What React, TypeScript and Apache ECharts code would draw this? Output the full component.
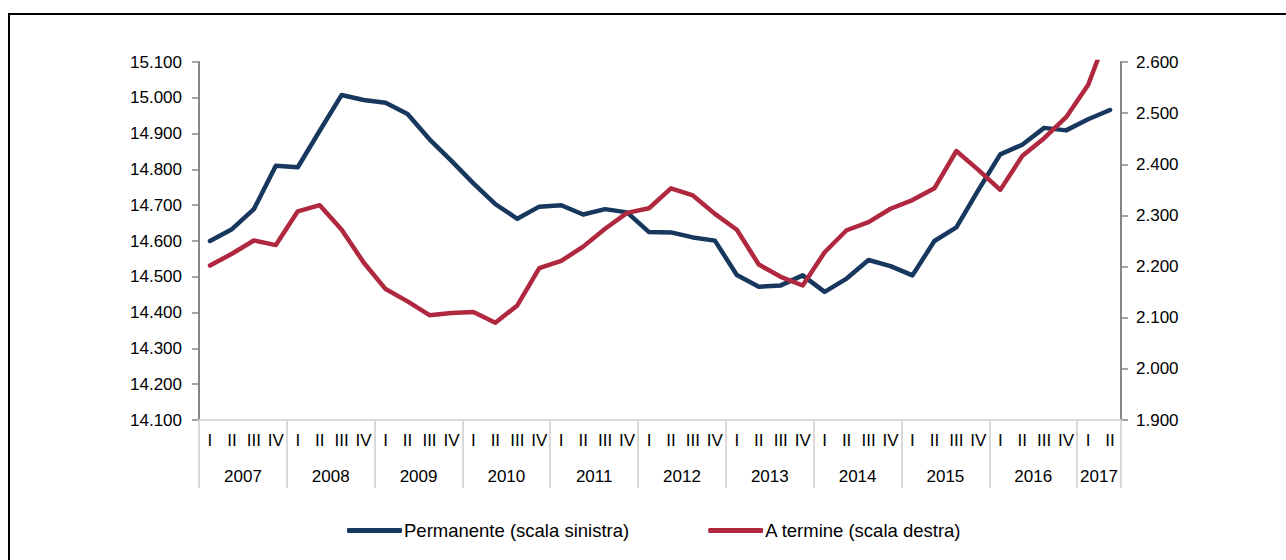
import React, { useEffect, useRef } from 'react';
import * as echarts from 'echarts';

const years = ['2007', '2008', '2009', '2010', '2011', '2012', '2013', '2014', '2015', '2016', '2017'];
const quarters = ['I', 'II', 'III', 'IV'];
const quarterCount = 42;

// Occupati permanenti (migliaia, scala sinistra)
const permanente = [
  14600, 14633, 14689, 14810, 14806, 14908, 15008, 14994, 14986, 14955, 14884, 14824,
  14761, 14703, 14662, 14696, 14700, 14674, 14689, 14680, 14625, 14624, 14610, 14601,
  14505, 14472, 14476, 14504, 14458, 14495, 14547, 14530, 14504, 14600, 14638, 14742,
  14842, 14869, 14916, 14909, 14940, 14966,
];

// Occupati a termine (migliaia, scala destra)
const aTermine = [
  2202, 2225, 2251, 2242, 2308, 2320, 2272, 2208, 2156, 2132, 2105, 2109,
  2111, 2090, 2124, 2197, 2211, 2239, 2274, 2305, 2314, 2353, 2339, 2303,
  2272, 2204, 2180, 2163, 2228, 2271, 2287, 2313, 2330, 2353, 2426, 2389,
  2350, 2416, 2451, 2492, 2555, 2668,
];

const leftRange = { min: 14100, max: 15100, step: 100 };
const rightRange = { min: 1900, max: 2600, step: 100 };

const seriesNames = ['Permanente (scala sinistra)', 'A termine (scala destra)'];
const colors = ['#17375E', '#B0283F'];

const categories: string[] = [];
years.forEach((y) => quarters.forEach((q) => categories.push(`${y}-${q}`)));
categories.length = quarterCount;

const quartersInYear = (y: string) => categories.filter((c) => c.split('-')[0] === y).length;

const fmt = (v: number) => (v / 1000).toFixed(3);

const FONT = 'Liberation Sans, Arial, sans-serif';

export default function App() {
  const ref = useRef<HTMLDivElement>(null);

  useEffect(() => {
    if (!ref.current) return;
    const chart = echarts.init(ref.current, null, { renderer: 'svg' });
    chart.setOption({
      animation: false,
      backgroundColor: '#ffffff',
      textStyle: { fontFamily: FONT },
      graphic: [
        {
          type: 'rect',
          shape: { x: 9, y: 14, width: 1400, height: 700 },
          style: { fill: 'none', stroke: '#000000', lineWidth: 2 },
          silent: true,
        },
      ],
      grid: { left: 199, right: 165, top: 62, bottom: 140, containLabel: false },
      legend: {
        left: 342,
        top: 516,
        itemGap: 79,
        itemWidth: 55,
        itemHeight: 5,
        icon: 'roundRect',
        textStyle: { fontFamily: FONT, fontSize: 18.5, color: '#000000', padding: [0, 0, 0, -3] },
        data: seriesNames,
      },
      xAxis: [
        {
          type: 'category',
          data: categories,
          boundaryGap: true,
          position: 'bottom',
          axisLine: { show: true, lineStyle: { color: '#d9d9d9', width: 2 } },
          axisTick: {
            show: true,
            interval: (index: number) => index % 4 === 0,
            length: 68,
            lineStyle: { color: '#d9d9d9', width: 2 },
          },
          axisLabel: {
            interval: 0,
            margin: 12,
            fontFamily: FONT,
            fontSize: 17,
            color: '#000000',
            formatter: (v: string) => v.split('-')[1],
          },
          splitLine: { show: false },
        },
        {
          type: 'category',
          data: categories,
          boundaryGap: true,
          position: 'bottom',
          offset: 0,
          axisLine: { show: false },
          axisTick: { show: false },
          axisLabel: {
            interval: (index: number, value: string) => value.split('-')[1] === 'II',
            margin: 48,
            fontFamily: FONT,
            fontSize: 17,
            color: '#000000',
            formatter: (v: string) => {
              const y = v.split('-')[0];
              return quartersInYear(y) === 4 ? `{s|${y}}` : `{e|${y}}`;
            },
            rich: {
              s: { padding: [0, 0, 0, 22], fontSize: 17, fontFamily: FONT, color: '#000000' },
              e: { padding: [0, 22, 0, 0], fontSize: 17, fontFamily: FONT, color: '#000000' },
            },
          },
          splitLine: { show: false },
        },
      ],
      yAxis: [
        {
          type: 'value',
          position: 'left',
          min: leftRange.min,
          max: leftRange.max,
          interval: leftRange.step,
          axisLine: { show: true, lineStyle: { color: '#868686', width: 2 } },
          axisTick: { show: true, inside: false, length: 7, lineStyle: { color: '#868686', width: 1.5 } },
          axisLabel: { margin: 17, fontFamily: FONT, fontSize: 17, color: '#000000', formatter: fmt },
          splitLine: { show: false },
        },
        {
          type: 'value',
          position: 'right',
          min: rightRange.min,
          max: rightRange.max,
          interval: rightRange.step,
          axisLine: { show: true, lineStyle: { color: '#868686', width: 2 } },
          axisTick: { show: true, inside: false, length: 7, lineStyle: { color: '#868686', width: 1.5 } },
          axisLabel: { margin: 15, fontFamily: FONT, fontSize: 17, color: '#000000', formatter: fmt },
          splitLine: { show: false },
        },
      ],
      series: [
        {
          name: seriesNames[0],
          type: 'line',
          xAxisIndex: 0,
          yAxisIndex: 0,
          data: permanente,
          symbol: 'none',
          clip: true,
          color: colors[0],
          lineStyle: { color: colors[0], width: 4.5, cap: 'round', join: 'round' },
          itemStyle: { color: colors[0] },
        },
        {
          name: seriesNames[1],
          type: 'line',
          xAxisIndex: 0,
          yAxisIndex: 1,
          data: aTermine,
          symbol: 'none',
          clip: true,
          color: colors[1],
          lineStyle: { color: colors[1], width: 4.5, cap: 'round', join: 'round' },
          itemStyle: { color: colors[1] },
        },
      ],
    });
    return () => chart.dispose();
  }, []);

  return (
    <div
      ref={ref}
      style={{ position: 'fixed', left: 0, top: 0, width: 1286, height: 560, background: '#fff' }}
    />
  );
}
